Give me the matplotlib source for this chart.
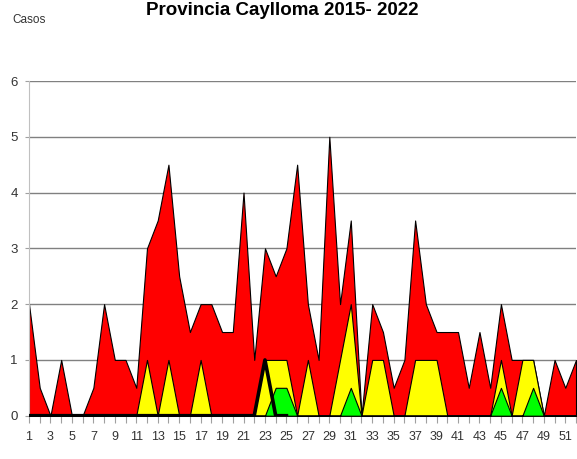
import matplotlib
matplotlib.use('Agg')
from matplotlib import pyplot as plt
import numpy as np

# semanas epidemiologicas
semanas = list(range(1, 53))

# zona epidemica (rojo)
epidemia = [2, 0.5, 0, 1, 0, 0, 0.5, 2, 1, 1,
            0.5, 3, 3.5, 4.5, 2.5, 1.5, 2, 2, 1.5, 1.5,
            4, 1, 3, 2.5, 3, 4.5, 2, 1, 5, 2,
            3.5, 0, 2, 1.5, 0.5, 1, 3.5, 2, 1.5, 1.5,
            1.5, 0.5, 1.5, 0.5, 2, 1, 1, 1, 0, 1,
            0.5, 1]
# zona de alarma (amarillo)
alarma = [0, 0, 0, 0, 0, 0, 0, 0, 0, 0,
          0, 1, 0, 1, 0, 0, 1, 0, 0, 0,
          0, 0, 1, 1, 1, 0, 1, 0, 0, 1,
          2, 0, 1, 1, 0, 0, 1, 1, 1, 0,
          0, 0, 0, 0, 1, 0, 1, 1, 0, 0,
          0, 0]
# zona de seguridad (verde)
seguridad = [0] * 23 + [0.5, 0.5] + [0] * 5 + [0.5] + [0] * 13 + [0.5] + [0] * 2 + [0.5] + [0] * 4
# casos del año actual (linea negra)
semanas_actual = list(range(1, 26))
casos_actual = [0] * 22 + [1, 0, 0]

titulo = 'Provincia Caylloma 2015- 2022'

plt.rcParams['font.family'] = ['Liberation Sans', 'DejaVu Sans']

fig = plt.figure(figsize=(5.77, 4.59), dpi=100)
ax = fig.add_axes([29 / 577, 1 - 415.7 / 459, 547 / 577, (415.7 - 81) / 459])

x = np.array(semanas)
ax.fill_between(x, 0, epidemia, facecolor='#ff0000', edgecolor='black', linewidth=0.8, zorder=2)
ax.fill_between(x, 0, alarma, facecolor='#ffff00', edgecolor='black', linewidth=0.8, zorder=3)
ax.fill_between(x, 0, seguridad, facecolor='#00ff00', edgecolor='black', linewidth=0.8, zorder=4)
ax.plot(semanas_actual, casos_actual, color='black', linewidth=2.6, zorder=5)

ax.set_xlim(1, 52)
ax.set_ylim(0, 6)
ax.set_yticks(range(0, 7))
ax.set_xticks(semanas)
ax.set_xticklabels([str(s) if s % 2 == 1 else '' for s in semanas])
ax.yaxis.grid(True, color='#808080', linewidth=1.0, zorder=0)
ax.set_axisbelow(True)

for lado in ['top', 'right']:
    ax.spines[lado].set_visible(False)
ax.spines['left'].set_color('#c0c0c0')
ax.spines['bottom'].set_color('#c0c0c0')
ax.tick_params(axis='x', length=5, color='#a0a0a0', labelsize=9, pad=6, labelcolor='#333333')
ax.tick_params(axis='y', length=3, color='#a0a0a0', labelsize=9.5, pad=5, labelcolor='#333333')

fig.text(282 / 577, 1 - 15 / 459, titulo, ha='center', va='baseline',
         fontsize=13.5, fontweight='bold')
fig.text(12 / 577, 1 - 20 / 459, 'Casos', ha='left', va='center', fontsize=8.5, color='#333333')

plt.savefig('out.png', dpi=100)
